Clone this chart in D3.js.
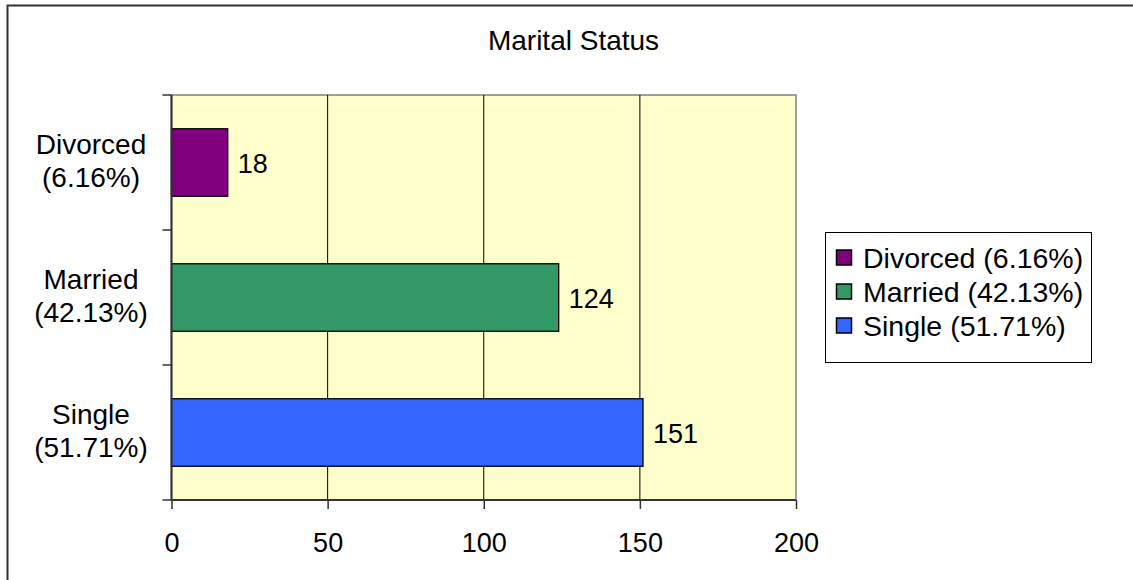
<!DOCTYPE html>
<html><head><meta charset="utf-8">
<script src="https://cdn.jsdelivr.net/npm/d3@7"></script>
<style>body{margin:0;background:#fff}svg{display:block}text{font-family:"Liberation Sans",Arial,sans-serif;fill:#000}</style>
</head><body>
<svg id="c" width="1133" height="580"></svg>
<script>
const categories = ["Divorced", "Married", "Single"];
const percents = ["6.16%", "42.13%", "51.71%"];
const values = [18, 124, 151];
const colors = ["#800080", "#339966", "#3366FF"];
const xTicks = [0, 50, 100, 150, 200];
const title = "Marital Status";

const svg = d3.select("#c");
const W = 1133, H = 580;
// outer chart border
svg.append("rect").attr("x", 7.5).attr("y", 5.5).attr("width", W + 10).attr("height", H + 10)
  .attr("fill", "#fff").attr("stroke", "#333").attr("stroke-width", 2);

const m = {l: 171.5, r: 796, t: 95, b: 500};
const x = d3.scaleLinear().domain([0, 200]).range([m.l, m.r]);
const y = d3.scaleBand().domain(categories).range([m.t, m.b]).paddingInner(0.5).paddingOuter(0.25);
const yb = d3.scaleBand().domain(categories).range([m.t, m.b]);

svg.append("rect").attr("x", m.l).attr("y", m.t).attr("width", m.r - m.l).attr("height", m.b - m.t)
  .attr("fill", "#FFFFCC").attr("stroke", "#808080").attr("stroke-width", 1.5);

// gridlines
svg.append("g").selectAll("line").data(xTicks.filter(d => d > 0 && d < 200)).join("line")
  .attr("x1", d => x(d)).attr("x2", d => x(d)).attr("y1", m.t).attr("y2", m.b)
  .attr("stroke", "#000").attr("stroke-width", 1);

// bars
svg.append("g").selectAll("rect").data(values).join("rect")
  .attr("x", x(0)).attr("y", (d, i) => y(categories[i]))
  .attr("width", d => x(d) - x(0)).attr("height", y.bandwidth())
  .attr("fill", (d, i) => colors[i]).attr("stroke", "#000").attr("stroke-width", 1.3);

// value labels
svg.append("g").selectAll("text").data(values).join("text")
  .attr("x", d => x(d) + 10).attr("y", (d, i) => y(categories[i]) + y.bandwidth() / 2 + 10)
  .attr("font-size", 27).text(d => d);

// x axis
const xa = svg.append("g").attr("transform", `translate(0,${m.b})`)
  .call(d3.axisBottom(x).tickValues(xTicks).tickSize(9).tickPadding(24).tickFormat(d3.format("d")));
xa.select(".domain").attr("stroke", "#333").attr("stroke-width", 2).attr("d", `M${m.l},0H${m.r}`);
xa.selectAll(".tick line").attr("stroke", "#333").attr("stroke-width", 1.5);
xa.selectAll(".tick text").attr("font-size", 27).attr("font-family", "Liberation Sans, Arial, sans-serif").attr("fill", "#000");

// y axis (ticks at band boundaries)
const yEdges = categories.map(c => yb(c)).concat([m.b]);
svg.append("line").attr("x1", m.l).attr("x2", m.l).attr("y1", m.t).attr("y2", m.b).attr("stroke", "#333").attr("stroke-width", 2);
svg.append("g").selectAll("line").data(yEdges).join("line")
  .attr("x1", m.l - 9).attr("x2", m.l).attr("y1", d => d).attr("y2", d => d)
  .attr("stroke", "#333").attr("stroke-width", 1.5);
const yl = svg.append("g").selectAll("text").data(categories).join("text")
  .attr("text-anchor", "middle").attr("font-size", 28)
  .attr("transform", c => `translate(91,${y(c) + y.bandwidth() / 2})`);
yl.append("tspan").attr("x", 0).attr("y", -9).text(c => c);
yl.append("tspan").attr("x", 0).attr("y", 24.5).text((c, i) => `(${percents[i]})`);

// title
svg.append("text").attr("x", 573.5).attr("y", 50).attr("text-anchor", "middle").attr("font-size", 28).text(title);

// legend
const lg = svg.append("g");
lg.append("rect").attr("x", 825.5).attr("y", 232.5).attr("width", 266).attr("height", 130)
  .attr("fill", "#fff").attr("stroke", "#000").attr("stroke-width", 1);
const li = lg.selectAll("g.it").data(categories).join("g").attr("class", "it")
  .attr("transform", (c, i) => `translate(836,${258 + i * 34})`);
li.append("rect").attr("x", 0.5).attr("y", -8).attr("width", 15).attr("height", 15)
  .attr("fill", (c, i) => colors[i]).attr("stroke", "#000").attr("stroke-width", 1.5);
li.append("text").attr("x", 27).attr("y", 9.5).attr("font-size", 28.5).text((c, i) => `${c} (${percents[i]})`);
</script>
</body></html>
